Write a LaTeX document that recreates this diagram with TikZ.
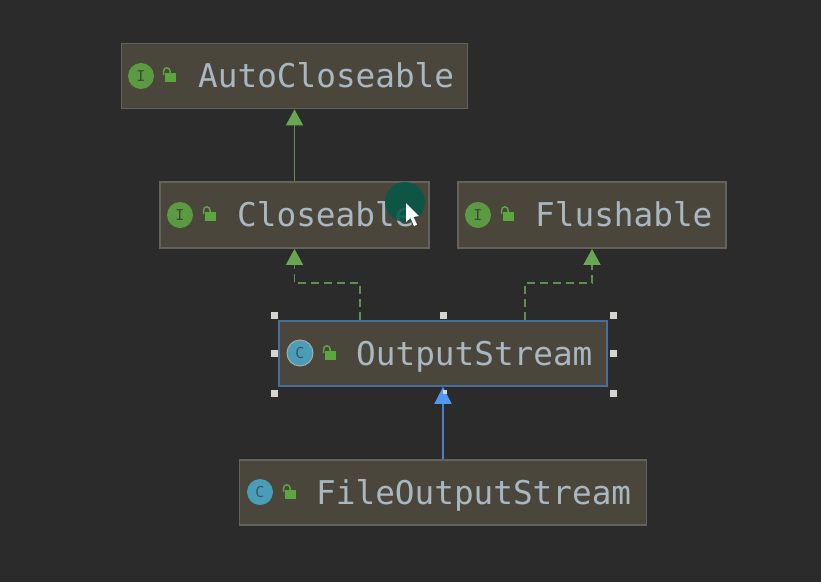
\documentclass[tikz,border=0pt]{standalone}
\usepackage{fontspec}
\setmonofont{DejaVu Sans Mono}
\usetikzlibrary{arrows.meta}
\definecolor{bg}{HTML}{2B2B2B}
\definecolor{boxfill}{HTML}{4B463B}
\definecolor{boxline}{HTML}{63635E}
\definecolor{selline}{HTML}{4A6E9A}
\definecolor{ifgreen}{HTML}{5C9A42}
\definecolor{edgegreen}{HTML}{5E8F50}
\definecolor{tipgreen}{HTML}{68A651}
\definecolor{edgeblue}{HTML}{4C7FBE}
\definecolor{tipblue}{HTML}{4F97F0}
\definecolor{clsblue}{HTML}{4A9DB8}
\definecolor{txt}{HTML}{A9B7C1}
\definecolor{lockgreen}{HTML}{5CA63F}
\definecolor{handle}{HTML}{D6D6D0}
\definecolor{spotgreen}{HTML}{065848}
\tikzset{
  x=1pt,y=-1pt,
  umlbox/.style={draw=boxline,line width=1.8pt,fill=boxfill,inner sep=0pt,minimum width=#1,minimum height=65pt},
  umllabel/.style={text=txt,inner sep=0pt,anchor=base west,font=\ttfamily\fontsize{32.7}{33}\selectfont},
  badge/.style={circle,inner sep=0pt,minimum size=26pt},
  badgeletter/.style={inner sep=0pt,font=\ttfamily\fontsize{15}{15}\selectfont},
  realizes/.style={draw=edgegreen,line width=1.6pt,dash pattern=on 8pt off 5pt,-{Triangle[length=16pt,width=17pt,fill=tipgreen,color=tipgreen]}},
  extgreen/.style={draw=edgegreen,line width=1.8pt,-{Triangle[length=16pt,width=17pt,fill=tipgreen,color=tipgreen]}},
  extblue/.style={draw=edgeblue,line width=2pt,-{Triangle[length=17pt,width=17pt,fill=tipblue,color=tipblue]}},
  grip/.style={fill=handle,draw=none,inner sep=0pt,minimum size=7pt}
}
\newcommand{\lockicon}[2]{%
  \fill[lockgreen] (#1-3,#2-1) rectangle (#1+8,#2+8);
  \draw[lockgreen,line width=1.5pt] (#1+2,#2-1) -- (#1+2,#2-3) arc[start angle=0,end angle=180,radius=3.2pt] -- (#1-4.4,#2+1);
}
\begin{document}
\begin{tikzpicture}
\useasboundingbox (0,0) rectangle (821,582);
\fill[bg] (0,0) rectangle (821,582);

\node[umlbox=346pt] (auto) at (294.5,76) {};
\node[umlbox=269pt,minimum height=66pt] (closeable) at (294.5,215) {};
\node[umlbox=268pt,minimum height=66pt] (flush) at (592,215) {};
\node[umlbox=328pt,draw=selline] (out) at (443,353.5) {};
\node[umlbox=407pt] (file) at (443,492.5) {};

\draw[extgreen] (closeable.north) -- (auto.south);
\draw[realizes] ([xshift=-83pt]out.north) |- ([yshift=37pt]out.north -| closeable.south) -- (closeable.south);
\draw[realizes] ([xshift=82pt]out.north) |- ([yshift=37pt]out.north -| flush.south) -- (flush.south);
\draw[extblue] (file.north) -- (out.south);

\node[umllabel] (t1) at (198,87) {AutoCloseable};
\node[umllabel] (t2) at (237,226) {Closeable};
\node[umllabel] (t3) at (535,226) {Flushable};
\node[umllabel] (t4) at (356,365) {OutputStream};
\node[umllabel] (t5) at (316,504) {FileOutputStream};

\node[badge,fill=ifgreen] (i1) at (141,76) {};
\node[badgeletter,text=bg!70!ifgreen] at (i1) {I};
\node[badge,fill=ifgreen] (i2) at (180,215) {};
\node[badgeletter,text=bg!70!ifgreen] at (i2) {I};
\node[badge,fill=ifgreen] (i3) at (478,215) {};
\node[badgeletter,text=bg!70!ifgreen] at (i3) {I};
\node[badge,fill=clsblue,draw=handle!70!boxfill,line width=1pt] (c1) at (300,353) {};
\node[badgeletter,text=bg!60!clsblue] at (c1) {C};
\node[badge,fill=clsblue] (c2) at (260,492) {};
\node[badgeletter,text=bg!60!clsblue] at (c2) {C};

\lockicon{168}{74}
\lockicon{208}{213}
\lockicon{506}{213}
\lockicon{328}{352}
\lockicon{288}{491}

\foreach \px/\py in {274/315,443/315,613/315,274/353,613/353,274/393,613/393}
  \node[grip] at (\px,\py) {};
\node[grip,minimum size=4pt] at (444.5,392) {};

\node[circle,inner sep=0pt,minimum size=40pt,fill=spotgreen,fill opacity=0.88] (spot) at (405,202) {};
\fill[white] (406,203) -- (406,222) -- (410.5,218) -- (414,226) -- (417,224.5) -- (413.5,217) -- (419,216) -- cycle;
\end{tikzpicture}
\end{document}
